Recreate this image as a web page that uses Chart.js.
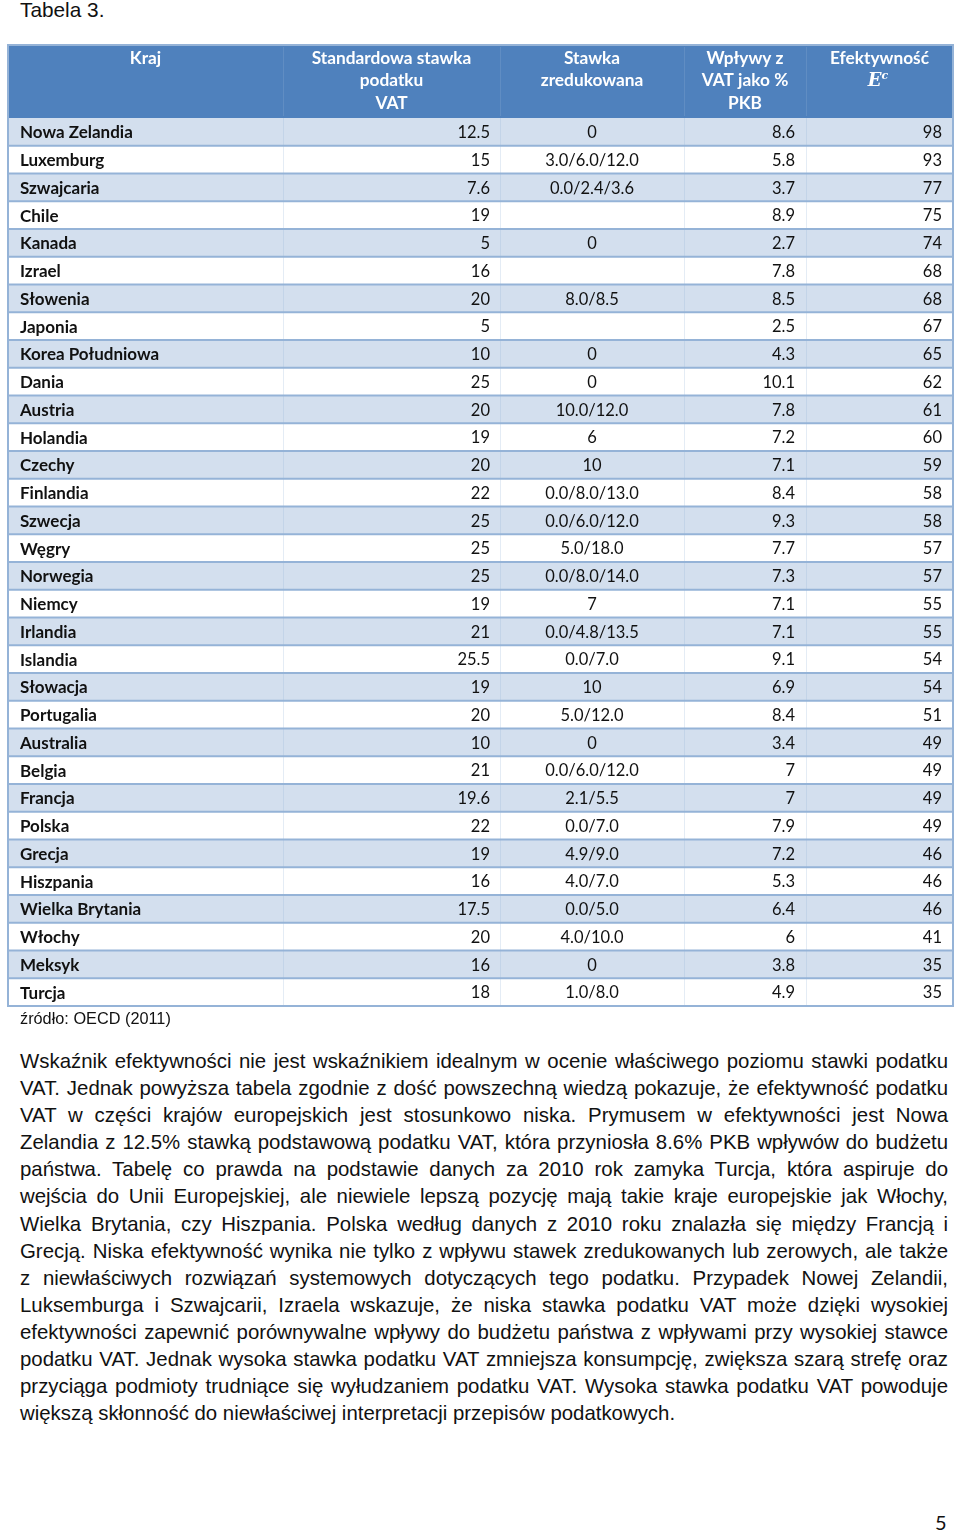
<!DOCTYPE html>
<html lang="pl">
<head>
<meta charset="utf-8">
<title>Tabela 3.</title>
<script src="https://cdn.jsdelivr.net/npm/chart.js@4/dist/chart.umd.min.js"></script>
<style>
  html, body { margin: 0; padding: 0; background: #fff; }
  body { width: 960px; height: 1533px; position: relative; overflow: hidden; font-family: "Liberation Sans", Arial, sans-serif; color: #111; }
  #title { position: absolute; left: 20px; top: -2px; font-size: 20.8px; }
  #tableChart { position: absolute; left: 0; top: 0; }
  #source { position: absolute; left: 20px; top: 1009px; font-size: 16.3px; }
  #text { position: absolute; left: 20px; top: 1048px; width: 928px; font-size: 20.4px; line-height: 27.1px; }
  #text div { text-align: justify; text-align-last: justify; white-space: nowrap; }
  #text div.last { text-align-last: left; }
  #page { position: absolute; left: 935px; top: 1510px; font-family: Lato, "Open Sans", sans-serif; font-size: 20px; }
</style>
</head>
<body>
<div id="title">Tabela 3.</div>
<canvas id="tableChart" width="960" height="1010"></canvas>
<div id="source">źródło: OECD (2011)</div>
<div id="text">
  <div>Wskaźnik efektywności nie jest wskaźnikiem idealnym w ocenie właściwego poziomu stawki podatku</div>
  <div>VAT. Jednak powyższa tabela zgodnie z dość powszechną wiedzą pokazuje, że efektywność podatku</div>
  <div>VAT w części krajów europejskich jest stosunkowo niska. Prymusem w efektywności jest Nowa</div>
  <div>Zelandia z 12.5% stawką podstawową podatku VAT, która przyniosła 8.6% PKB wpływów do budżetu</div>
  <div>państwa. Tabelę co prawda na podstawie danych za 2010 rok zamyka Turcja, która aspiruje do</div>
  <div>wejścia do Unii Europejskiej, ale niewiele lepszą pozycję mają takie kraje europejskie jak Włochy,</div>
  <div>Wielka Brytania, czy Hiszpania. Polska według danych z 2010 roku znalazła się między Francją i</div>
  <div>Grecją. Niska efektywność wynika nie tylko z wpływu stawek zredukowanych lub zerowych, ale także</div>
  <div>z niewłaściwych rozwiązań systemowych dotyczących tego podatku. Przypadek Nowej Zelandii,</div>
  <div>Luksemburga i Szwajcarii, Izraela wskazuje, że niska stawka podatku VAT może dzięki wysokiej</div>
  <div>efektywności zapewnić porównywalne wpływy do budżetu państwa z wpływami przy wysokiej stawce</div>
  <div>podatku VAT. Jednak wysoka stawka podatku VAT zmniejsza konsumpcję, zwiększa szarą strefę oraz</div>
  <div>przyciąga podmioty trudniące się wyłudzaniem podatku VAT. Wysoka stawka podatku VAT powoduje</div>
  <div class="last">większą skłonność do niewłaściwej interpretacji przepisów podatkowych.</div>
</div>
<div id="page">5</div>

<script>
// Table data (OECD 2011)
const countries = [
  'Nowa Zelandia', 'Luxemburg', 'Szwajcaria', 'Chile', 'Kanada', 'Izrael', 'Słowenia', 'Japonia',
  'Korea Południowa', 'Dania', 'Austria', 'Holandia', 'Czechy', 'Finlandia', 'Szwecja', 'Węgry',
  'Norwegia', 'Niemcy', 'Irlandia', 'Islandia', 'Słowacja', 'Portugalia', 'Australia', 'Belgia',
  'Francja', 'Polska', 'Grecja', 'Hiszpania', 'Wielka Brytania', 'Włochy', 'Meksyk', 'Turcja'
]
const standardRate = [
  12.5, 15, 7.6, 19, 5, 16, 20, 5, 10, 25, 20, 19, 20, 22, 25, 25,
  25, 19, 21, 25.5, 19, 20, 10, 21, 19.6, 22, 19, 16, 17.5, 20, 16, 18
]
const reducedRate = [
  '0', '3.0/6.0/12.0', '0.0/2.4/3.6', '', '0', '', '8.0/8.5', '', '0', '0', '10.0/12.0', '6', '10',
  '0.0/8.0/13.0', '0.0/6.0/12.0', '5.0/18.0', '0.0/8.0/14.0', '7', '0.0/4.8/13.5', '0.0/7.0', '10',
  '5.0/12.0', '0', '0.0/6.0/12.0', '2.1/5.5', '0.0/7.0', '4.9/9.0', '4.0/7.0', '0.0/5.0', '4.0/10.0',
  '0', '1.0/8.0'
]
const vatShareGdp = [
  8.6, 5.8, 3.7, 8.9, 2.7, 7.8, 8.5, 2.5, 4.3, 10.1, 7.8, 7.2, 7.1, 8.4, 9.3, 7.7,
  7.3, 7.1, 7.1, 9.1, 6.9, 8.4, 3.4, 7, 7, 7.9, 7.2, 5.3, 6.4, 6, 3.8, 4.9
]
const efficiency = [
  98, 93, 77, 75, 74, 68, 68, 67, 65, 62, 61, 60, 59, 58, 58, 57,
  57, 55, 55, 54, 54, 51, 49, 49, 49, 49, 46, 46, 46, 41, 35, 35
]
const headerLabels = [
  ['Kraj'],
  ['Standardowa stawka', 'podatku', 'VAT'],
  ['Stawka', 'zredukowana'],
  ['Wpływy z', 'VAT jako %', 'PKB'],
  ['Efektywność']
]

// layout
const COL_EDGES = [0, 275, 492, 676, 798, 945]
const HEADER_H = 73
const BLUE = '#4f81bd'
const LIGHT = '#d3dfee'
const LINE = '#95b3d7'
const BODY_FONT = 'Lato, "Open Sans", sans-serif'

const tablePlugin = {
  id: 'tableText',
  beforeDatasetsDraw(chart) {
    const { ctx, chartArea, scales: { x } } = chart
    const top = chartArea.top - HEADER_H
    ctx.save()
    ctx.fillStyle = BLUE
    ctx.fillRect(chartArea.left, top, chartArea.right - chartArea.left, HEADER_H)
    // faint header cell lines
    ctx.strokeStyle = 'rgba(255,255,255,0.10)'
    ctx.lineWidth = 1
    COL_EDGES.slice(1, -1).forEach(e => {
      const px = Math.round(x.getPixelForValue(e)) + 0.5
      ctx.beginPath(); ctx.moveTo(px, top + 2); ctx.lineTo(px, chartArea.top - 2); ctx.stroke()
    })
    ctx.restore()
  },
  afterDatasetsDraw(chart) {
    const { ctx, chartArea, scales: { x, y } } = chart
    const top = chartArea.top - HEADER_H
    ctx.save()

    // row separators
    ctx.strokeStyle = LINE
    ctx.lineWidth = 2
    for (let i = 1; i < countries.length; i++) {
      const py = (y.getPixelForValue(i - 1) + y.getPixelForValue(i)) / 2
      ctx.beginPath(); ctx.moveTo(chartArea.left, py); ctx.lineTo(chartArea.right, py); ctx.stroke()
    }
    // faint column lines in body
    ctx.strokeStyle = 'rgba(149,179,215,0.25)'
    ctx.lineWidth = 1
    COL_EDGES.slice(1, -1).forEach(e => {
      const px = Math.round(x.getPixelForValue(e)) + 0.5
      ctx.beginPath(); ctx.moveTo(px, chartArea.top); ctx.lineTo(px, chartArea.bottom); ctx.stroke()
    })

    // header text
    ctx.fillStyle = '#ffffff'
    ctx.textAlign = 'center'
    ctx.textBaseline = 'middle'
    ctx.font = 'bold 17.3px ' + BODY_FONT
    headerLabels.forEach((lines, c) => {
      const cx = (x.getPixelForValue(COL_EDGES[c]) + x.getPixelForValue(COL_EDGES[c + 1])) / 2
      lines.forEach((t, k) => ctx.fillText(t, cx, top + 13 + k * 22.5))
    })
    // E^c
    const ecx = (x.getPixelForValue(COL_EDGES[4]) + x.getPixelForValue(COL_EDGES[5])) / 2
    ctx.font = 'italic bold 18px "DejaVu Serif", serif'
    ctx.textAlign = 'right'
    ctx.fillText('E', ecx + 2, top + 36)
    ctx.font = 'italic bold 11px "DejaVu Serif", serif'
    ctx.textAlign = 'left'
    ctx.fillText('c', ecx + 2, top + 31)

    // body text
    ctx.fillStyle = '#111111'
    countries.forEach((name, i) => {
      const py = y.getPixelForValue(i) + 1
      ctx.font = 'bold 17px ' + BODY_FONT
      ctx.textAlign = 'left'
      ctx.fillText(name, x.getPixelForValue(COL_EDGES[0]) + 12, py)

      ctx.font = '16.5px ' + BODY_FONT
      ctx.textAlign = 'right'
      ctx.fillText(String(standardRate[i]), x.getPixelForValue(COL_EDGES[2]) - 10, py)
      ctx.textAlign = 'center'
      ctx.fillText(reducedRate[i], (x.getPixelForValue(COL_EDGES[2]) + x.getPixelForValue(COL_EDGES[3])) / 2, py)
      ctx.textAlign = 'right'
      ctx.fillText(String(vatShareGdp[i]), x.getPixelForValue(COL_EDGES[4]) - 11, py)
      ctx.fillText(String(efficiency[i]), x.getPixelForValue(COL_EDGES[5]) - 11, py)
    })

    // outer border
    ctx.strokeStyle = LINE
    ctx.lineWidth = 2
    ctx.strokeRect(chartArea.left, top, chartArea.right - chartArea.left, chartArea.bottom - top)
    ctx.restore()
  }
}

new Chart(document.getElementById('tableChart'), {
  type: 'bar',
  data: {
    labels: countries,
    datasets: [{
      data: countries.map(() => [COL_EDGES[0], COL_EDGES[COL_EDGES.length - 1]]),
      backgroundColor: countries.map((_, i) => i % 2 === 0 ? LIGHT : '#ffffff'),
      borderWidth: 0,
      barPercentage: 1,
      categoryPercentage: 1
    }]
  },
  options: {
    indexAxis: 'y',
    responsive: false,
    animation: false,
    layout: { padding: { left: 8, right: 7, top: 118, bottom: 4 } },
    plugins: { legend: { display: false }, tooltip: { enabled: false } },
    scales: {
      x: { type: 'linear', display: false, min: COL_EDGES[0], max: COL_EDGES[COL_EDGES.length - 1] },
      y: { type: 'category', display: false }
    }
  },
  plugins: [tablePlugin]
})
</script>
</body>
</html>
